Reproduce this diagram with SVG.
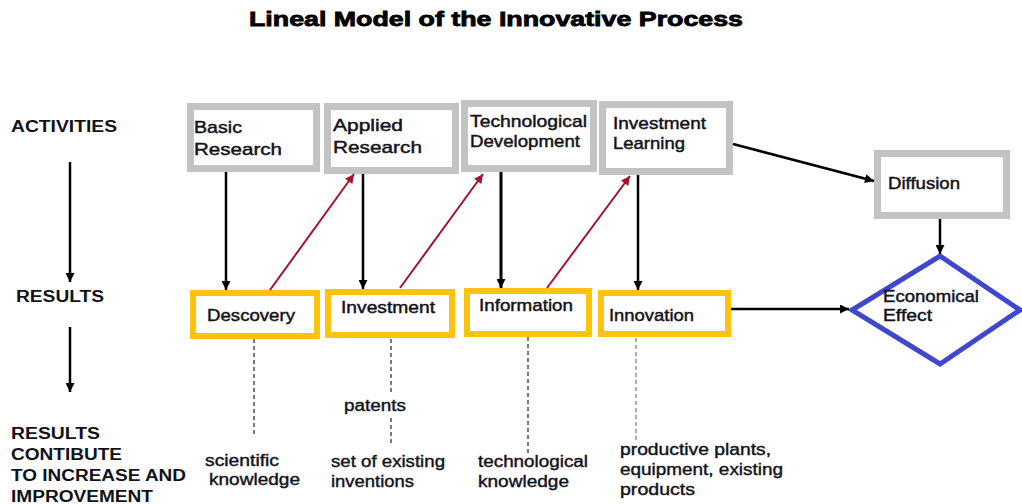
<svg xmlns="http://www.w3.org/2000/svg" width="1022" height="504" viewBox="0 0 1022 504">
  <style>
    text { font-family: "Liberation Sans", Arial, sans-serif; fill: #12121a; }
    .title { font-size: 20px; font-weight: bold; stroke: #000; stroke-width: 0.8px; fill: #000; }
    .side { font-size: 16px; font-weight: bold; }
    .lbl { font-size: 17px; stroke: #12121a; stroke-width: 0.45px; }
    .note { font-size: 16px; stroke: #12121a; stroke-width: 0.4px; }
    .act { fill: #fff; stroke: #c3c3c3; stroke-width: 7; }
    .res { fill: #fff; stroke: #ffc20e; stroke-width: 6; }
    .eff { fill: #fff; stroke: #3f48cc; stroke-width: 5; stroke-linejoin: miter; }
    .flow { stroke: #000; stroke-width: 2.5; fill: none; marker-end: url(#head); }
    .back { stroke: #a3152c; stroke-width: 2; fill: none; marker-end: url(#headRed); }
    .dash { stroke: #222; stroke-width: 1.2; stroke-dasharray: 4 3; fill: none; }
  </style>
  <defs>
    <marker id="head" viewBox="0 0 10 10" refX="10" refY="5" markerWidth="10" markerHeight="9" markerUnits="userSpaceOnUse" orient="auto">
      <path d="M0,0 L10,5 L0,10 z" fill="#000"/>
    </marker>
    <marker id="headRed" viewBox="0 0 10 10" refX="10" refY="5" markerWidth="10" markerHeight="9" markerUnits="userSpaceOnUse" orient="auto">
      <path d="M0,0 L10,5 L0,10 z" fill="#a3152c"/>
    </marker>
  </defs>

  <rect width="1022" height="504" fill="#fff"/>

  <text class="title" x="249" y="26" textLength="494" lengthAdjust="spacingAndGlyphs">Lineal Model of the Innovative Process</text>

  <!-- row labels -->
  <g id="row-labels">
    <text class="side" x="11" y="132" textLength="106" lengthAdjust="spacingAndGlyphs">ACTIVITIES</text>
    <text class="side" x="16" y="302" textLength="88" lengthAdjust="spacingAndGlyphs">RESULTS</text>
    <text class="side" x="11" y="439" textLength="89" lengthAdjust="spacingAndGlyphs">RESULTS</text>
    <text class="side" x="11" y="460" textLength="111" lengthAdjust="spacingAndGlyphs">CONTIBUTE</text>
    <text class="side" x="11" y="481" textLength="175" lengthAdjust="spacingAndGlyphs">TO INCREASE AND</text>
    <text class="side" x="11" y="502" textLength="142" lengthAdjust="spacingAndGlyphs">IMPROVEMENT</text>
  </g>

  <!-- activities -->
  <g id="basic-research">
    <rect class="act" x="190.5" y="106.5" width="126" height="62"/>
    <text class="lbl" x="194" y="133" textLength="48" lengthAdjust="spacingAndGlyphs">Basic</text>
    <text class="lbl" x="194" y="155" textLength="88" lengthAdjust="spacingAndGlyphs">Research</text>
  </g>
  <g id="applied-research">
    <rect class="act" x="327.5" y="106.5" width="128" height="64"/>
    <text class="lbl" x="333" y="131" textLength="70" lengthAdjust="spacingAndGlyphs">Applied</text>
    <text class="lbl" x="333" y="153" textLength="89" lengthAdjust="spacingAndGlyphs">Research</text>
  </g>
  <g id="technological-development">
    <rect class="act" x="464.5" y="103.5" width="129" height="65"/>
    <text class="lbl" x="470" y="127" textLength="117" lengthAdjust="spacingAndGlyphs">Technological</text>
    <text class="lbl" x="470" y="147" textLength="110" lengthAdjust="spacingAndGlyphs">Development</text>
  </g>
  <g id="investment-learning">
    <rect class="act" x="602.5" y="104.5" width="127" height="67"/>
    <text class="lbl" x="613" y="129" textLength="93" lengthAdjust="spacingAndGlyphs">Investment</text>
    <text class="lbl" x="613" y="149" textLength="72" lengthAdjust="spacingAndGlyphs">Learning</text>
  </g>
  <g id="diffusion">
    <rect class="act" x="877.5" y="153.5" width="129" height="62"/>
    <text class="lbl" x="888" y="189" textLength="72" lengthAdjust="spacingAndGlyphs">Diffusion</text>
  </g>

  <!-- results -->
  <g id="descovery">
    <rect class="res" x="193" y="293" width="124" height="43"/>
    <text class="lbl" x="207" y="321" textLength="88" lengthAdjust="spacingAndGlyphs">Descovery</text>
  </g>
  <g id="investment">
    <rect class="res" x="328" y="292" width="124" height="43"/>
    <text class="lbl" x="341" y="313" textLength="94" lengthAdjust="spacingAndGlyphs">Investment</text>
  </g>
  <g id="information">
    <rect class="res" x="467" y="291" width="122" height="43"/>
    <text class="lbl" x="479" y="311" textLength="94" lengthAdjust="spacingAndGlyphs">Information</text>
  </g>
  <g id="innovation">
    <rect class="res" x="601" y="293" width="127" height="41"/>
    <text class="lbl" x="609" y="321" textLength="85" lengthAdjust="spacingAndGlyphs">Innovation</text>
  </g>
  <g id="economical-effect">
    <polygon class="eff" points="940,256 1020,310 940,364 852,310"/>
    <text class="lbl" x="883" y="302" textLength="96" lengthAdjust="spacingAndGlyphs">Economical</text>
    <text class="lbl" x="883" y="321" textLength="49" lengthAdjust="spacingAndGlyphs">Effect</text>
  </g>

  <!-- contributions -->
  <g id="contributions">
    <text class="note" x="205" y="466" textLength="74" lengthAdjust="spacingAndGlyphs">scientific</text>
    <text class="note" x="209" y="485" textLength="91" lengthAdjust="spacingAndGlyphs">knowledge</text>
    <text class="note" x="344" y="411" textLength="62" lengthAdjust="spacingAndGlyphs">patents</text>
    <text class="note" x="331" y="467" textLength="114" lengthAdjust="spacingAndGlyphs">set of existing</text>
    <text class="note" x="331" y="487" textLength="83" lengthAdjust="spacingAndGlyphs">inventions</text>
    <text class="note" x="478" y="467" textLength="110" lengthAdjust="spacingAndGlyphs">technological</text>
    <text class="note" x="478" y="487" textLength="91" lengthAdjust="spacingAndGlyphs">knowledge</text>
    <text class="note" x="620" y="455" textLength="151" lengthAdjust="spacingAndGlyphs">productive plants,</text>
    <text class="note" x="620" y="475" textLength="163" lengthAdjust="spacingAndGlyphs">equipment, existing</text>
    <text class="note" x="620" y="495" textLength="75" lengthAdjust="spacingAndGlyphs">products</text>
  </g>

  <!-- connectors -->
  <g id="connectors">
    <path class="flow" d="M70,162 L70,282"/>
    <path class="flow" d="M70,327 L70,392"/>
    <path class="flow" d="M226,172 L226,290"/>
    <path class="flow" d="M363,174 L363,289"/>
    <path class="flow" d="M501,172 L501,288" style="stroke-width:3"/>
    <path class="flow" d="M638,175 L638,290"/>
    <path class="flow" d="M940,219 L940,254"/>
    <path class="flow" d="M733,144 L874,181"/>
    <path class="flow" d="M731,309 L849,309"/>
    <path class="back" d="M270,290 L354,174"/>
    <path class="back" d="M400,288 L483,174"/>
    <path class="back" d="M547,288 L630,176"/>
    <path class="dash" d="M254,339 L254,437"/>
    <path class="dash" d="M391,339 L391,394"/>
    <path class="dash" d="M391,418 L391,446"/>
    <path class="dash" d="M528,337 L528,453"/>
    <path class="dash" d="M636,338 L636,440" style="stroke:#777"/>
  </g>
</svg>
